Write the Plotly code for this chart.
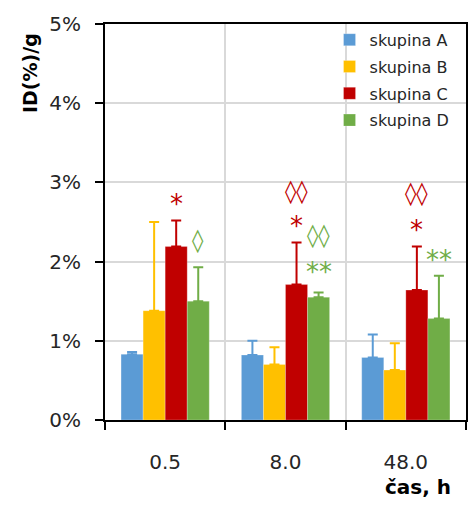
import plotly.graph_objects as go

categories = ["0.5", "8.0", "48.0"]
series_names = ["skupina A", "skupina B", "skupina C", "skupina D"]
colors = ["#5B9BD5", "#FFC000", "#C00000", "#70AD47"]

values_A = [0.83, 0.82, 0.79]
values_B = [1.38, 0.70, 0.63]
values_C = [2.19, 1.71, 1.64]
values_D = [1.50, 1.55, 1.28]

err_A = [0.03, 0.18, 0.29]
err_B = [1.12, 0.22, 0.34]
err_C = [0.33, 0.53, 0.55]
err_D = [0.43, 0.06, 0.54]

values = [values_A, values_B, values_C, values_D]
errors = [err_A, err_B, err_C, err_D]

# significance marks: (category index, series index, text, y value)
marks_group = [0, 0, 1, 1, 1, 1, 2, 2, 2]
marks_series = [2, 3, 2, 2, 3, 3, 2, 2, 3]
marks_text = ["*", "◊", "◊◊", "*", "◊◊", "**", "◊◊", "*", "**"]
marks_y = [2.80, 2.27, 2.89, 2.52, 2.33, 1.94, 2.86, 2.48, 2.10]

FONT = "DejaVu Sans"
TXT = "#262626"

fig = go.Figure()
for name, col, v, e in zip(series_names, colors, values, errors):
    fig.add_trace(go.Bar(
        x=categories, y=v, name=name, legendgroup=name,
        marker=dict(color=col, line=dict(color="rgba(255,255,255,0.3)", width=0.8)),
        error_y=dict(type="data", array=e, arrayminus=[0] * len(e), symmetric=False,
                     color=col, thickness=2, width=5),
    ))

bargap = 0.267
nser = len(series_names)
bw = (1 - bargap) / nser
for g, s, t, yv in zip(marks_group, marks_series, marks_text, marks_y):
    xoff = -(1 - bargap) / 2 + bw * (s + 0.5)
    if "*" in t:
        fnt = dict(family="DejaVu Sans", size=26, color=colors[s])
        ysh = -6
        txt = t
    else:
        fnt = dict(family="DejaVu Sans", size=23, color=colors[s])
        ysh = 0
        txt = "<b>" + t + "</b>"
    fig.add_annotation(x=g + xoff, y=yv, xref="x", yref="y", text=txt, showarrow=False,
                       font=fnt, xanchor="center", yanchor="middle", yshift=ysh)

fig.add_annotation(x=-0.208, y=0.876, xref="paper", yref="paper", text="<b>ID(%)/g</b>",
                   textangle=-90, showarrow=False, font=dict(family=FONT, size=19, color="#000"),
                   xanchor="center", yanchor="middle")
fig.add_annotation(x=0.866, y=-0.169, xref="paper", yref="paper", text="<b>čas, h</b>",
                   showarrow=False, font=dict(family=FONT, size=20, color="#000"),
                   xanchor="center", yanchor="middle")

fig.update_layout(
    width=468, height=505,
    margin=dict(l=105, r=2, t=24, b=85),
    barmode="group", bargap=bargap, bargroupgap=0,
    plot_bgcolor="white", paper_bgcolor="white",
    font=dict(family=FONT, color=TXT),
    legend=dict(x=0.622, y=1.003, xanchor="left", yanchor="top",
                bgcolor="rgba(255,255,255,0)", font=dict(family=FONT, size=16, color=TXT),
                tracegroupgap=3, traceorder="grouped"),
    showlegend=True,
)
fig.update_xaxes(
    type="category", showline=True, linecolor="black", linewidth=2, mirror=True,
    showgrid=True, gridcolor="#D9D9D9", gridwidth=2, tickson="boundaries",
    ticks="outside", ticklen=8, tickcolor="black", tickwidth=1.5, automargin=False,
    tickfont=dict(family=FONT, size=20, color=TXT), ticklabelstandoff=23,
)
fig.update_yaxes(
    range=[0, 5], dtick=1, ticksuffix="%", showline=True, linecolor="black", linewidth=2,
    mirror=True, showgrid=True, gridcolor="#D9D9D9", gridwidth=2, automargin=False,
    ticks="outside", ticklen=8, tickcolor="black", tickwidth=1.5,
    tickfont=dict(family=FONT, size=20, color=TXT), ticklabelstandoff=10, zeroline=False,
)

fig.write_html("out.html", config={"displayModeBar": False},
               post_script="document.body.style.margin='0px';document.body.style.overflow='hidden';")
